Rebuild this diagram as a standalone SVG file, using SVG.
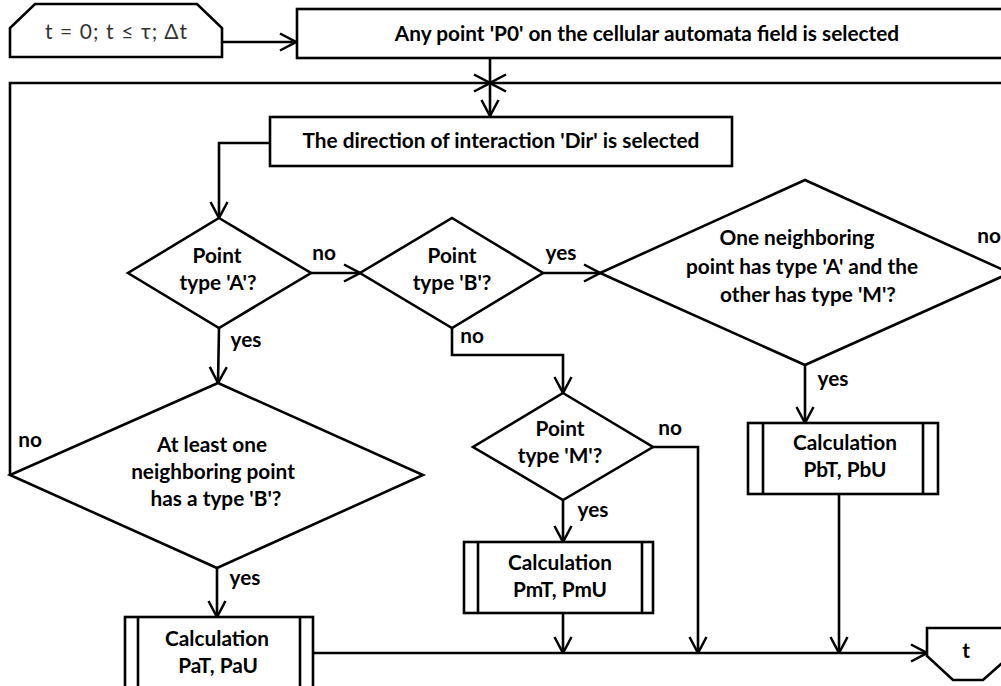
<svg xmlns="http://www.w3.org/2000/svg" width="1001" height="686" viewBox="0 0 1001 686">
<defs>
<marker id="arr" viewBox="0 0 18 20" refX="17" refY="10" markerWidth="18" markerHeight="20" markerUnits="userSpaceOnUse" orient="auto">
<path d="M1,1.5 L17,10 L1,18.5" fill="none" stroke="#000" stroke-width="2.5"/>
</marker>
<style>
.s{fill:#fff;stroke:#000;stroke-width:2.6}
.l{fill:none;stroke:#000;stroke-width:2.6}
.t{font-family:Lato,"Liberation Sans",sans-serif;font-weight:bold;font-size:20.8px;fill:#000;text-anchor:middle}
.r{font-family:Lato,"Liberation Sans",sans-serif;font-size:21px;fill:#333;text-anchor:middle}
</style>
</defs>
<rect width="1001" height="686" fill="#fff"/>
<g id="connectors">
<path class="l" d="M222,42 L296,42" marker-end="url(#arr)"/>
<path class="l" d="M490,58 L490,116" marker-end="url(#arr)"/>
<path class="l" d="M10,475 L10,83 L490,83" marker-end="url(#arr)"/>
<path class="l" d="M1010,273 L1012,273 L1012,83 L490,83" marker-end="url(#arr)"/>
<path class="l" d="M270,143 L219,143 L219,218" marker-end="url(#arr)"/>
<path class="l" d="M311,273 L360,273" marker-end="url(#arr)"/>
<path class="l" d="M543,273 L600,273" marker-end="url(#arr)"/>
<path class="l" d="M219,328 L218,383" marker-end="url(#arr)"/>
<path class="l" d="M217,568 L217,617" marker-end="url(#arr)"/>
<path class="l" d="M452,328 L452,355 L563,355 L563,393" marker-end="url(#arr)"/>
<path class="l" d="M563,500 L563,542" marker-end="url(#arr)"/>
<path class="l" d="M653,447 L698,447 L698,653" marker-end="url(#arr)"/>
<path class="l" d="M563,613 L563,653" marker-end="url(#arr)"/>
<path class="l" d="M805,365 L805,423" marker-end="url(#arr)"/>
<path class="l" d="M839,494 L839,653" marker-end="url(#arr)"/>
<path class="l" d="M313,653 L927,653" marker-end="url(#arr)"/>
<text class="t" x="324" y="260">no</text>
<text class="t" x="561" y="260">yes</text>
<text class="t" x="246" y="347">yes</text>
<text class="t" x="472" y="343">no</text>
<text class="t" x="989" y="243">no</text>
<text class="t" x="30" y="447">no</text>
<text class="t" x="245" y="585">yes</text>
<text class="t" x="670" y="435">no</text>
<text class="t" x="593" y="517">yes</text>
<text class="t" x="833" y="386">yes</text>
</g>
<g id="start">
<path class="s" d="M35,4 L197,4 L222,28 L222,57 L10,57 L10,28 Z"/>
<text class="r" x="116" y="39" textLength="142">t = 0; t ≤ τ; Δt</text>
</g>
<g id="select-p0">
<rect class="s" x="297" y="9" width="720" height="49"/>
<text class="t" x="647" y="41">Any point 'P0' on the cellular automata field is selected</text>
</g>
<g id="select-dir">
<rect class="s" x="270" y="117" width="462" height="49"/>
<text class="t" x="501" y="148">The direction of interaction 'Dir' is selected</text>
</g>
<g id="dec-a">
<path class="s" d="M219,218 L311,273 L219,328 L128,273 Z"/>
<text class="t" x="217" y="263">Point</text>
<text class="t" x="218" y="290">type 'A'?</text>
</g>
<g id="dec-b">
<path class="s" d="M452,218 L543,273 L452,328 L360,273 Z"/>
<text class="t" x="452" y="263">Point</text>
<text class="t" x="452" y="290">type 'B'?</text>
</g>
<g id="dec-c">
<path class="s" d="M805,180 L1010,273 L805,365 L600,273 Z"/>
<text class="t" x="797" y="245">One neighboring</text>
<text class="t" x="802" y="274">point has type 'A' and the</text>
<text class="t" x="808" y="302">other has type 'M'?</text>
</g>
<g id="dec-neighbor-b">
<path class="s" d="M218,383 L423,475 L217,568 L10,475 Z"/>
<text class="t" x="212" y="452">At least one</text>
<text class="t" x="213" y="479">neighboring point</text>
<text class="t" x="216" y="506">has a type 'B'?</text>
</g>
<g id="dec-m">
<path class="s" d="M563,393 L653,447 L563,500 L473,447 Z"/>
<text class="t" x="560" y="436">Point</text>
<text class="t" x="560" y="463">type 'M'?</text>
</g>
<g id="calc-pa">
<rect class="s" x="125" y="617" width="188" height="90"/>
<path class="l" d="M138,617 L138,707 M300,617 L300,707"/>
<text class="t" x="217" y="646">Calculation</text>
<text class="t" x="218" y="673">PaT, PaU</text>
</g>
<g id="calc-pm">
<rect class="s" x="464" y="542" width="189" height="71"/>
<path class="l" d="M478,542 L478,613 M642,542 L642,613"/>
<text class="t" x="560" y="570">Calculation</text>
<text class="t" x="560" y="597">PmT, PmU</text>
</g>
<g id="calc-pb">
<rect class="s" x="748" y="423" width="190" height="71"/>
<path class="l" d="M763,423 L763,494 M923,423 L923,494"/>
<text class="t" x="845" y="450">Calculation</text>
<text class="t" x="845" y="477">PbT, PbU</text>
</g>
<g id="end-t">
<path class="s" d="M927,628 L1010,628 L1010,656 L983,680 L953,680 L927,656 Z"/>
<text class="t" x="966" y="658">t</text>
</g>
</svg>
